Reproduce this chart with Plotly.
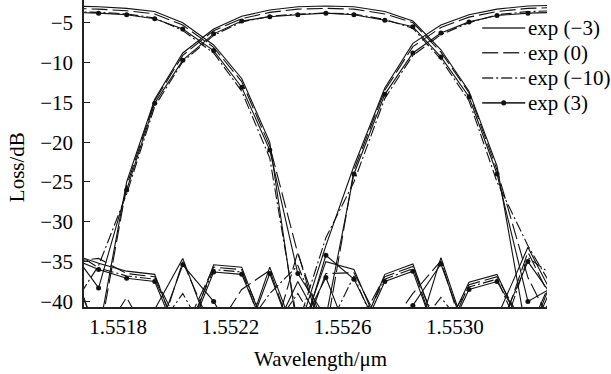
import plotly.graph_objects as go

# Sample wavelengths (um)
wavelength = [1.55163, 1.55173, 1.55183, 1.55193, 1.55203, 1.55214, 1.55224, 1.55234, 1.55244,
              1.55254, 1.55264, 1.55275, 1.55285, 1.55295, 1.55305, 1.55315, 1.55326, 1.55336]

# exp (-3)
expm3_ch1 = [-36.0, -44.0, -25.0, -14.6, -8.8, -5.8, -4.2, -3.4, -3.0, -2.9, -3.0, -3.6, -4.8, -8.4, -13.6, -23.0, -45.0, -36.0]
expm3_ch2 = [-2.9, -3.0, -3.2, -3.6, -5.0, -7.8, -12.0, -20.0, -44.0, -33.0, -23.0, -13.2, -7.6, -5.3, -4.0, -3.3, -2.9, -2.8]
expm3_ch3 = [-34.0, -35.2, -36.2, -36.6, -46.0, -35.4, -35.7, -45.0, -37.5, -44.0, -46.0, -36.6, -35.3, -45.0, -37.6, -36.6, -45.0, -37.0]
expm3_ch4 = [-45.0, -44.0, -46.0, -41.0, -34.6, -45.0, -46.0, -35.7, -45.0, -35.0, -36.0, -45.0, -46.0, -34.5, -45.0, -42.0, -33.2, -40.0]

# exp (0)
exp0_ch1 = [-34.5, -45.0, -25.5, -14.8, -9.1, -6.0, -4.5, -3.7, -3.3, -3.2, -3.3, -3.9, -5.0, -8.7, -13.8, -23.5, -37.0, -44.0]
exp0_ch2 = [-3.2, -3.3, -3.5, -3.9, -5.3, -8.1, -12.4, -20.5, -34.0, -44.0, -23.5, -13.5, -8.0, -5.6, -4.3, -3.6, -3.2, -3.1]
exp0_ch3 = [-35.0, -34.6, -36.5, -36.9, -44.0, -35.7, -36.0, -46.0, -33.8, -46.0, -44.0, -36.9, -35.6, -46.0, -37.9, -36.9, -44.0, -36.0]
exp0_ch4 = [-46.0, -45.0, -39.5, -46.0, -35.0, -44.0, -38.5, -36.1, -46.0, -36.5, -36.4, -44.0, -39.0, -34.9, -46.0, -45.0, -33.8, -41.0]

# exp (-10)
expm10_ch1 = [-41.0, -35.5, -26.5, -15.5, -9.9, -6.6, -4.9, -4.2, -3.9, -3.8, -3.9, -4.6, -5.7, -9.6, -14.8, -25.0, -33.0, -39.0]
expm10_ch2 = [-3.6, -3.7, -3.9, -4.4, -6.0, -8.8, -13.6, -22.0, -43.0, -32.0, -25.0, -14.5, -9.1, -6.5, -5.0, -4.0, -3.6, -3.5]
expm10_ch3 = [-33.5, -35.8, -36.8, -37.2, -45.0, -36.0, -36.3, -44.0, -39.0, -45.0, -45.0, -37.2, -35.9, -44.0, -38.2, -37.2, -46.0, -38.5]
expm10_ch4 = [-44.0, -46.0, -45.0, -44.0, -39.0, -46.0, -44.0, -39.0, -35.5, -44.0, -36.8, -46.0, -44.0, -39.5, -44.0, -46.0, -34.5, -37.0]

# exp (3)
exp3_ch1 = [-33.5, -38.3, -26.0, -15.1, -9.7, -6.4, -4.8, -4.25, -4.0, -3.8, -4.0, -4.7, -5.5, -9.3, -14.3, -24.0, -40.0, -38.0]
exp3_ch2 = [-3.7, -3.8, -4.0, -4.5, -5.8, -8.5, -13.1, -21.0, -36.5, -42.0, -24.0, -14.0, -8.8, -6.3, -4.9, -4.1, -3.8, -3.7]
exp3_ch3 = [-34.5, -36.0, -37.1, -37.5, -46.0, -36.3, -36.6, -45.0, -44.0, -37.0, -46.0, -37.5, -36.2, -46.0, -38.5, -37.5, -44.0, -39.0]
exp3_ch4 = [-45.0, -44.0, -46.0, -45.0, -35.4, -40.0, -46.0, -36.5, -46.0, -34.2, -37.2, -45.0, -40.5, -35.3, -45.0, -44.0, -35.0, -40.0]

x_ticks = [1.5518, 1.5522, 1.5526, 1.5530]
x_ticktext = ["1.5518", "1.5522", "1.5526", "1.5530"]
y_ticks = [-5, -10, -15, -20, -25, -30, -35, -40]

series = [
    ("exp (\u22123)", [expm3_ch1, expm3_ch2, expm3_ch3, expm3_ch4], "solid", "lines"),
    ("exp (0)", [exp0_ch1, exp0_ch2, exp0_ch3, exp0_ch4], "16px,5px", "lines"),
    ("exp (\u221210)", [expm10_ch1, expm10_ch2, expm10_ch3, expm10_ch4], "11px,3px,2px,3px", "lines"),
    ("exp (3)", [exp3_ch1, exp3_ch2, exp3_ch3, exp3_ch4], "solid", "lines+markers"),
]

FONT = "Liberation Serif"
INK = "#111111"

fig = go.Figure()
for name, channels, dash, mode in series:
    for values in channels:
        fig.add_trace(go.Scatter(
            x=wavelength, y=values, mode=mode, name=name,
            legendgroup=name, showlegend=False,
            line=dict(color=INK, width=1.1, dash=dash),
            marker=dict(color=INK, size=5, symbol="circle"),
        ))

# Key drawn beside the upper-right corner of the plot (paper coordinates)
key_x0, key_x1, key_text_x = 0.860, 0.953, 0.955
key_rows = [0.909, 0.828, 0.746, 0.665]
shapes = []
annotations = []
for (name, _, dash, mode), ky in zip(series, key_rows):
    shapes.append(dict(type="line", xref="paper", yref="paper",
                       x0=key_x0, x1=key_x1, y0=ky, y1=ky,
                       line=dict(color="#333333", width=1.6, dash=dash)))
    if "markers" in mode:
        cx = (key_x0 + key_x1) / 2
        shapes.append(dict(type="circle", xref="paper", yref="paper",
                           x0=cx - 0.0055, x1=cx + 0.0055, y0=ky - 0.0085, y1=ky + 0.0085,
                           fillcolor=INK, line=dict(color=INK, width=0)))
    annotations.append(dict(text=name, xref="paper", yref="paper", x=key_text_x, y=ky,
                            xanchor="left", yanchor="middle", showarrow=False,
                            font=dict(family=FONT, size=21, color="black")))

annotations += [
    dict(text="Loss/dB", xref="paper", yref="paper", x=-0.145, y=0.455,
         xanchor="center", yanchor="middle", textangle=-90, showarrow=False,
         font=dict(family=FONT, size=21, color="black")),
    dict(text="Wavelength/\u03bcm", xref="paper", yref="paper", x=0.511, y=-0.168,
         xanchor="center", yanchor="middle", showarrow=False,
         font=dict(family=FONT, size=21, color="black")),
]

fig.update_layout(
    width=611, height=374,
    margin=dict(l=84, r=64, t=0, b=67),
    paper_bgcolor="white", plot_bgcolor="white",
    font=dict(family=FONT, size=21, color="black"),
    showlegend=False,
    shapes=shapes,
    annotations=annotations,
    xaxis=dict(
        range=[1.551678, 1.553328], tickvals=x_ticks, ticktext=x_ticktext,
        showline=True, linecolor="#222222", linewidth=1.5, mirror=False,
        ticks="", showgrid=False, zeroline=False, ticklabelstandoff=0,
    ),
    yaxis=dict(
        range=[-40.7, -2.15], tickvals=y_ticks,
        showline=True, linecolor="#222222", linewidth=1.5, mirror=False,
        ticks="inside", ticklen=6, tickcolor="#222222", tickwidth=1.2,
        showgrid=False, zeroline=False, ticklabelstandoff=5,
    ),
)

fig.write_html("out.html")
